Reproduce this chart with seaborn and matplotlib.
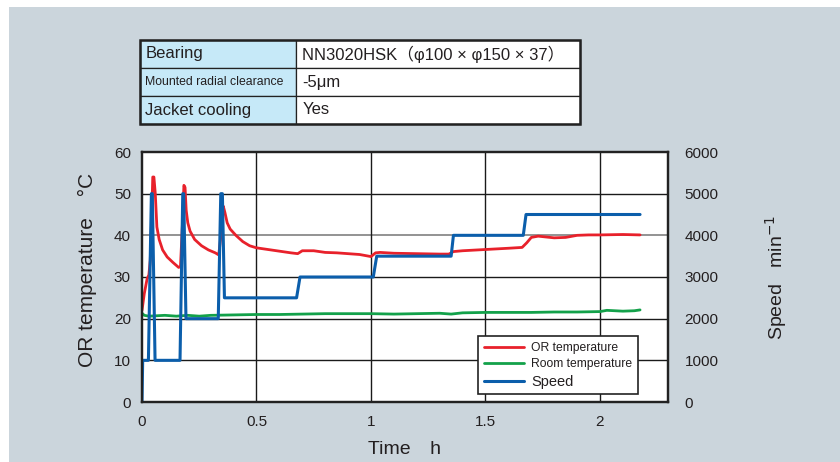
import numpy as np
import pandas as pd
import seaborn as sns
import matplotlib.pyplot as plt
from matplotlib.patches import Rectangle
from matplotlib.lines import Line2D

# OR (outer ring) temperature, degC
or_time = [0, 0.01, 0.022, 0.03, 0.036, 0.042, 0.047, 0.052, 0.058, 0.065, 0.075, 0.09,
           0.11, 0.135, 0.16, 0.168, 0.176, 0.183, 0.188, 0.193, 0.2, 0.21, 0.23, 0.26,
           0.29, 0.32, 0.335, 0.345, 0.355, 0.362, 0.372, 0.385, 0.41, 0.44, 0.47, 0.5,
           0.55, 0.6, 0.65, 0.68, 0.7, 0.75, 0.8, 0.85, 0.9, 0.95, 0.99, 1.0, 1.02, 1.04,
           1.1, 1.2, 1.3, 1.34, 1.36, 1.4, 1.5, 1.6, 1.66, 1.68, 1.7, 1.73, 1.8, 1.85,
           1.9, 1.95, 2.0, 2.1, 2.175]
or_temp = [22, 26, 29.5, 30.5, 34, 44, 54, 54, 50, 42, 39, 36.5,
           34.8, 33.5, 32.3, 32.5, 42, 52, 51.5, 46, 43, 41, 39, 37.5,
           36.5, 35.8, 35.3, 40, 47, 45.5, 43, 41.5, 40, 38.5, 37.5, 37,
           36.6, 36.2, 35.8, 35.6, 36.3, 36.3, 35.9, 35.8, 35.6, 35.4, 35.0, 34.9, 35.8, 35.9,
           35.7, 35.6, 35.5, 35.5, 36.1, 36.3, 36.6, 36.9, 37.1, 38.2, 39.5, 39.8, 39.4, 39.5,
           40.0, 40.1, 40.1, 40.2, 40.1]

# room temperature, degC
room_time = [0, 0.01, 0.03, 0.1, 0.15, 0.2, 0.25, 0.3, 0.4, 0.5, 0.6, 0.7, 0.8, 0.9, 1.0,
             1.1, 1.2, 1.3, 1.35, 1.4, 1.5, 1.6, 1.7, 1.8, 1.9, 2.0, 2.03, 2.1, 2.15, 2.175]
room_temp = [21.3, 20.8, 20.6, 20.8, 20.6, 20.8, 20.6, 20.8, 20.9, 21.0, 21.0, 21.1, 21.2,
             21.2, 21.2, 21.1, 21.2, 21.3, 21.1, 21.4, 21.5, 21.5, 21.5, 21.6, 21.6, 21.7,
             22.0, 21.8, 21.9, 22.1]

# spindle speed, min^-1
speed_time = [0, 0.003, 0.028, 0.041, 0.045, 0.057, 0.166, 0.178, 0.182, 0.192,
              0.333, 0.344, 0.351, 0.36, 0.675, 0.69, 1.01, 1.025, 1.35, 1.36,
              1.665, 1.677, 2.175]
speed = [0, 1000, 1000, 5000, 5000, 1000, 1000, 5000, 5000, 2000,
         2000, 5000, 5000, 2500, 2500, 3000, 3000, 3500, 3500, 4000,
         4000, 4500, 4500]

table_rows = [["Bearing", "NN3020HSK\uff08\u03c6100 \u00d7 \u03c6150 \u00d7 37\uff09"],
              ["Mounted radial clearance", "-5\u03bcm"],
              ["Jacket cooling", "Yes"]]

red, green, blue = "#e8212b", "#13a14a", "#0b5eab"
txt = "#231f20"
bg = "#cbd5dc"

sns.set_theme(style="white")
plt.rcParams["font.family"] = ["Liberation Sans", "DejaVu Sans", "Noto Sans CJK JP"]

fig = plt.figure(figsize=(8.4, 4.62), dpi=100, facecolor="white")
fig.patches.append(Rectangle((9 / 840, 0), 1, 1 - 7 / 462, transform=fig.transFigure,
                             facecolor=bg, edgecolor="none", zorder=-10))

ax = fig.add_axes([142 / 840, 1 - 402 / 462, 526 / 840, 250 / 462])
ax2 = ax.twinx()

df_or = pd.DataFrame({"t": or_time, "v": or_temp})
df_room = pd.DataFrame({"t": room_time, "v": room_temp})
df_speed = pd.DataFrame({"t": speed_time, "v": speed})

sns.lineplot(data=df_room, x="t", y="v", ax=ax, color=green, lw=2, estimator=None, sort=False)
sns.lineplot(data=df_or, x="t", y="v", ax=ax, color=red, lw=2, estimator=None, sort=False)
sns.lineplot(data=df_speed, x="t", y="v", ax=ax2, color=blue, lw=2.2, estimator=None, sort=False)

ax.set_xlim(0, 2.297)
ax.set_ylim(0, 60)
ax2.set_ylim(0, 6000)
ax.set_xticks([0, 0.5, 1, 1.5, 2])
ax.set_xticklabels(["0", "0.5", "1", "1.5", "2"])
ax.set_yticks(range(0, 61, 10))
ax2.set_yticks(range(0, 6001, 1000))

ax.set_facecolor("white")
for y in [10, 20, 30, 50]:
    ax.axhline(y, color="#1a1a1a", lw=1, zorder=0.5)
ax.axhline(40, color="#808080", lw=1.2, zorder=0.5)
for x in [0.5, 1, 1.5, 2]:
    ax.axvline(x, color="#1a1a1a", lw=1, zorder=0.5)

for a in (ax, ax2):
    for s in a.spines.values():
        s.set_color("#222222")
        s.set_linewidth(1.6)
    a.tick_params(length=0, labelsize=11, colors=txt)
ax.tick_params(axis="y", pad=8)
ax.tick_params(axis="x", pad=9)
ax2.tick_params(axis="y", pad=12)

ax.set_xlabel("Time\u3000h", fontsize=14, color=txt)
ax.xaxis.set_label_coords(0.5, -0.155)
ax.set_ylabel("OR temperature\u3000\u00b0C", fontsize=15, color=txt)
ax.yaxis.set_label_coords(-0.085, 0.53)
ax2.set_ylabel("Speed   min$^{-1}$", fontsize=14, color=txt)
ax2.yaxis.set_label_coords(1.181, 0.5)

handles = [Line2D([], [], color=red, lw=2), Line2D([], [], color=green, lw=2),
           Line2D([], [], color=blue, lw=2.2)]
leg = ax2.legend(handles, ["OR temperature", "Room temperature", "Speed"],
                 loc="lower left", bbox_to_anchor=(0.627, 0.006), frameon=True,
                 fancybox=False, framealpha=1, edgecolor="#222222", fontsize=9,
                 handlelength=3.2, handletextpad=0.6, borderpad=0.45, labelspacing=0.35)
leg.get_frame().set_linewidth(1.2)
for t in leg.get_texts():
    t.set_color(txt)
    t.set_fontsize(8.7)
leg.get_texts()[2].set_fontsize(10.5)

# parameter table
tax = fig.add_axes([140 / 840, 1 - 124 / 462, 440 / 840, 84 / 462])
tax.axis("off")
tbl = tax.table(cellText=table_rows, cellLoc="left", colWidths=[156 / 440, 284 / 440],
                bbox=[0, 0, 1, 1])
tbl.auto_set_font_size(False)
for (r, c), cell in tbl.get_celld().items():
    cell.set_edgecolor("#222222")
    cell.set_linewidth(0.9)
    cell.set_facecolor("#c6e9f8" if c == 0 else "white")
    cell.PAD = 0.035 if c == 0 else 0.022
    cell.get_text().set_color(txt)
    cell.get_text().set_fontsize(12)
tbl[1, 0].get_text().set_fontsize(8.8)
tax.add_patch(Rectangle((0, 0), 1, 1, transform=tax.transAxes, fill=False,
                        edgecolor="#222222", lw=1.8, clip_on=False))

fig.savefig("out.png", dpi=100)
